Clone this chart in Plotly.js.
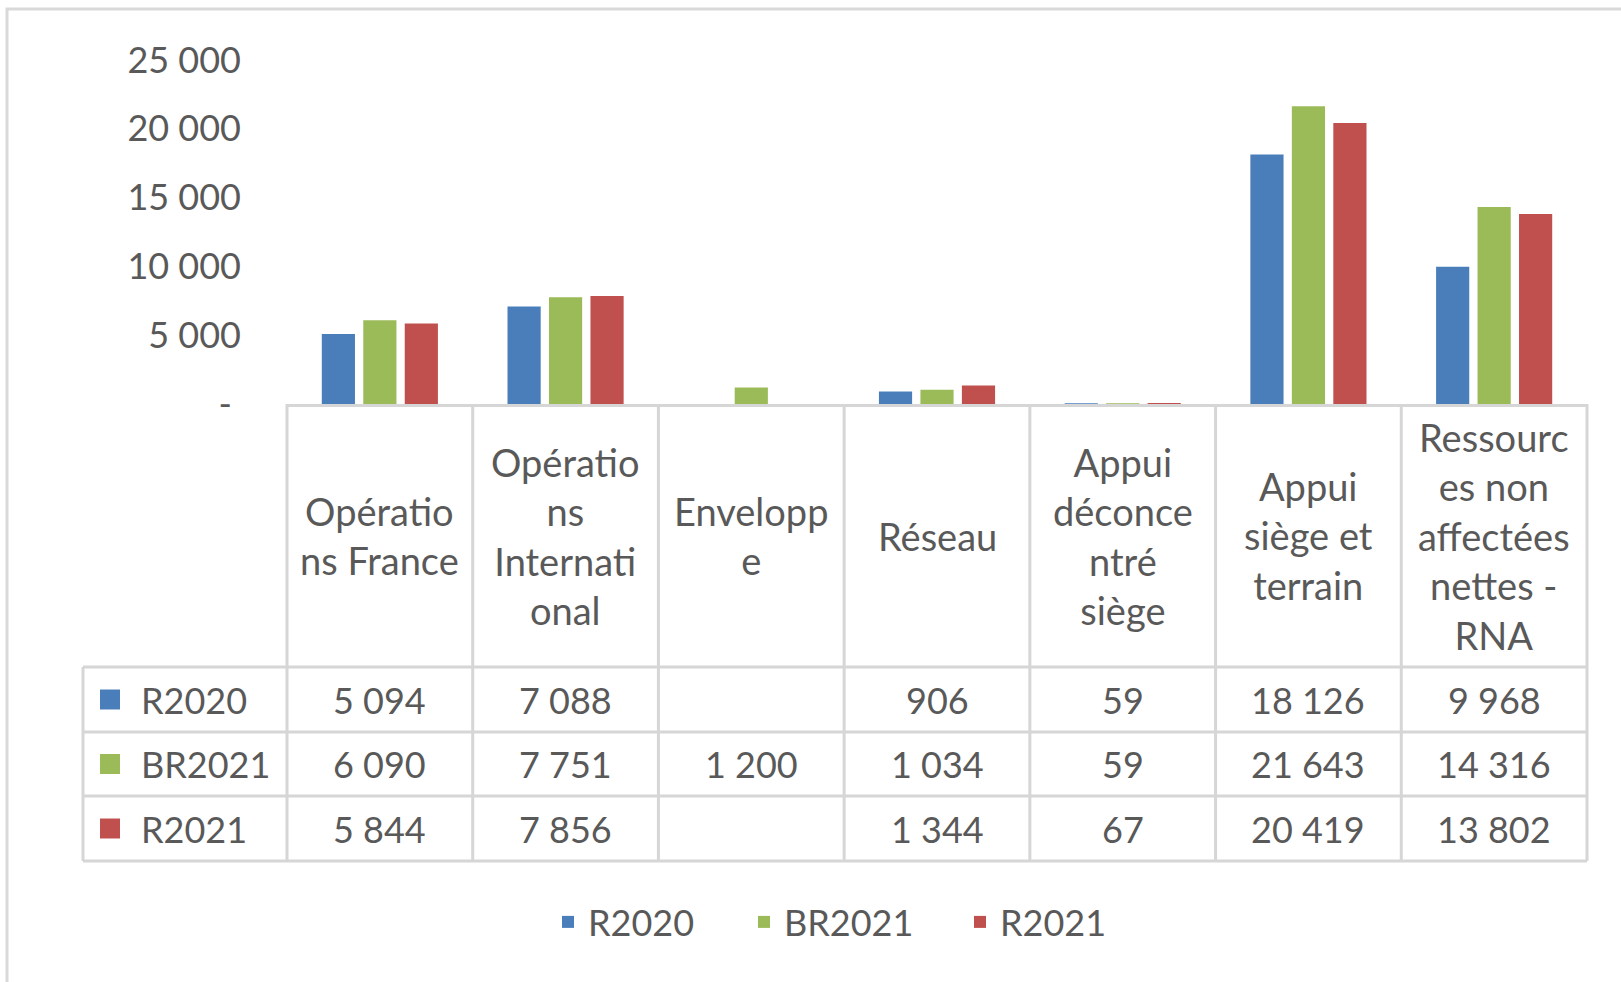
<!DOCTYPE html>
<html>
<head>
<meta charset="utf-8">
<script src="https://cdn.plot.ly/plotly-3.0.1.min.js"></script>
<style>
  html, body { margin: 0; padding: 0; background: #ffffff; }
  #chart { width: 1621px; height: 982px; }
</style>
</head>
<body>
<div id="chart"></div>
<script>
// ---- Data ----
const categories = [
  "Opérations France",
  "Opérations International",
  "Enveloppe",
  "Réseau",
  "Appui déconcentré siège",
  "Appui siège et terrain",
  "Ressources non affectées nettes - RNA"
];
// Header labels as wrapped in the chart's data table
const headerLabels = [
  "Opératio<br>ns France",
  "Opératio<br>ns<br>Internati<br>onal",
  "Envelopp<br>e",
  "Réseau",
  "Appui<br>déconce<br>ntré<br>siège",
  "Appui<br>siège et<br>terrain",
  "Ressourc<br>es non<br>affectées<br>nettes -<br>RNA"
];
const seriesNames = ["R2020", "BR2021", "R2021"];
const r2020  = [5094, 7088, null, 906, 59, 18126, 9968];
const br2021 = [6090, 7751, 1200, 1034, 59, 21643, 14316];
const r2021  = [5844, 7856, null, 1344, 67, 20419, 13802];
const seriesColors = ["#4a7ebb", "#9bbb59", "#c0504d"];
const yTickVals = [0, 5000, 10000, 15000, 20000, 25000];
const yTickText = ["-\u00a0", "5 000", "10 000", "15 000", "20 000", "25 000"];

// ---- Layout geometry (pixels) ----
const W = 1621, H = 982;
const M = { l: 287, r: 34, t: 60, b: 578 };
const plotW = W - M.l - M.r;
const plotH = H - M.t - M.b;
const baseY = M.t + plotH;                 // pixel of the x axis
const headerBottom = 667;
const rowBottoms = [732, 796, 861];
const keyColLeft = 83;
const FONT = "Lato, 'Open Sans', sans-serif";
const TXT = "#595959";
const GRID = "#d6d6d6";

const px2x = p => (p - M.l) / plotW;       // pixel -> paper x
const py2y = p => (baseY - p) / plotH;     // pixel -> paper y
const n = categories.length;
const colEdge = i => i / n;                // paper x of column boundary
const colMid = i => (i + 0.5) / n;

const fmt = v => (v === null || v === undefined) ? "" :
  String(Math.round(v)).replace(/\B(?=(\d{3})+(?!\d))/g, " ");

const allSeries = [r2020, br2021, r2021];
const legendWidths = [151, 171, 160];

const traces = allSeries.map((vals, k) => ({
  type: "bar",
  name: seriesNames[k],
  x: categories,
  y: vals,
  marker: { color: seriesColors[k] },
  legendwidth: legendWidths[k],
  hoverinfo: "x+y+name"
}));

// ---- Data table drawn below the plot ----
const shapes = [];
const annotations = [];
const lineStyle = { color: GRID, width: 3 };

// outer chart border
shapes.push({ type: "rect", xref: "paper", yref: "paper",
  x0: px2x(7), x1: px2x(1660), y0: py2y(9), y1: py2y(1010),
  line: { color: "#d9d9d9", width: 3 }, layer: "below" });

// vertical column boundaries
for (let i = 0; i <= n; i++) {
  shapes.push({ type: "line", xref: "paper", yref: "paper",
    x0: colEdge(i), x1: colEdge(i), y0: py2y(baseY), y1: py2y(rowBottoms[2]),
    line: lineStyle });
}
// key column left edge
shapes.push({ type: "line", xref: "paper", yref: "paper",
  x0: px2x(keyColLeft), x1: px2x(keyColLeft), y0: py2y(headerBottom), y1: py2y(rowBottoms[2]),
  line: lineStyle });
// horizontal rows
[headerBottom].concat(rowBottoms).forEach(p => {
  shapes.push({ type: "line", xref: "paper", yref: "paper",
    x0: px2x(keyColLeft), x1: 1, y0: py2y(p), y1: py2y(p), line: lineStyle });
});

// header labels
const headerMid = (baseY + headerBottom) / 2;
headerLabels.forEach((lab, i) => {
  annotations.push({ xref: "paper", yref: "paper", x: colMid(i), y: py2y(headerMid),
    xanchor: "center", yanchor: "middle", align: "center", showarrow: false,
    text: lab, font: { family: FONT, size: 38, color: TXT } });
});

// rows
const rowTops = [headerBottom, rowBottoms[0], rowBottoms[1]];
allSeries.forEach((vals, k) => {
  const mid = (rowTops[k] + rowBottoms[k]) / 2;
  // legend key square
  shapes.push({ type: "rect", xref: "paper", yref: "paper",
    x0: px2x(100), x1: px2x(120), y0: py2y(mid - 10), y1: py2y(mid + 10),
    fillcolor: seriesColors[k], line: { width: 0 } });
  annotations.push({ xref: "paper", yref: "paper", x: px2x(139), y: py2y(mid),
    xanchor: "left", yanchor: "middle", showarrow: false,
    text: seriesNames[k], font: { family: FONT, size: 36, color: TXT } });
  vals.forEach((v, i) => {
    const t = fmt(v);
    if (!t) return;
    annotations.push({ xref: "paper", yref: "paper", x: colMid(i), y: py2y(mid),
      xanchor: "center", yanchor: "middle", showarrow: false,
      text: t, font: { family: FONT, size: 36, color: TXT } });
  });
});

const layout = {
  width: W, height: H,
  margin: M,
  paper_bgcolor: "#ffffff",
  plot_bgcolor: "#ffffff",
  font: { family: FONT, size: 36, color: TXT },
  barmode: "group",
  bargap: 0.33,
  bargroupgap: 0.2,
  showlegend: true,
  legend: {
    orientation: "h",
    x: px2x(548), xanchor: "left",
    y: py2y(922), yanchor: "middle",
    font: { family: FONT, size: 36, color: TXT },
    bgcolor: "rgba(0,0,0,0)"
  },
  xaxis: {
    type: "category",
    range: [-0.5, n - 0.5],
    showticklabels: false,
    ticks: "",
    showgrid: false,
    zeroline: false,
    showline: true,
    linecolor: GRID,
    linewidth: 3,
    fixedrange: true
  },
  yaxis: {
    range: [0, 25000],
    tickmode: "array",
    tickvals: yTickVals,
    ticktext: yTickText,
    showgrid: false,
    zeroline: false,
    showline: false,
    ticks: "",
    ticklabelstandoff: 45,
    tickfont: { family: FONT, size: 36, color: TXT },
    fixedrange: true
  },
  shapes: shapes,
  annotations: annotations
};

Plotly.newPlot("chart", traces, layout, { displayModeBar: false, staticPlot: true });
</script>
</body>
</html>
